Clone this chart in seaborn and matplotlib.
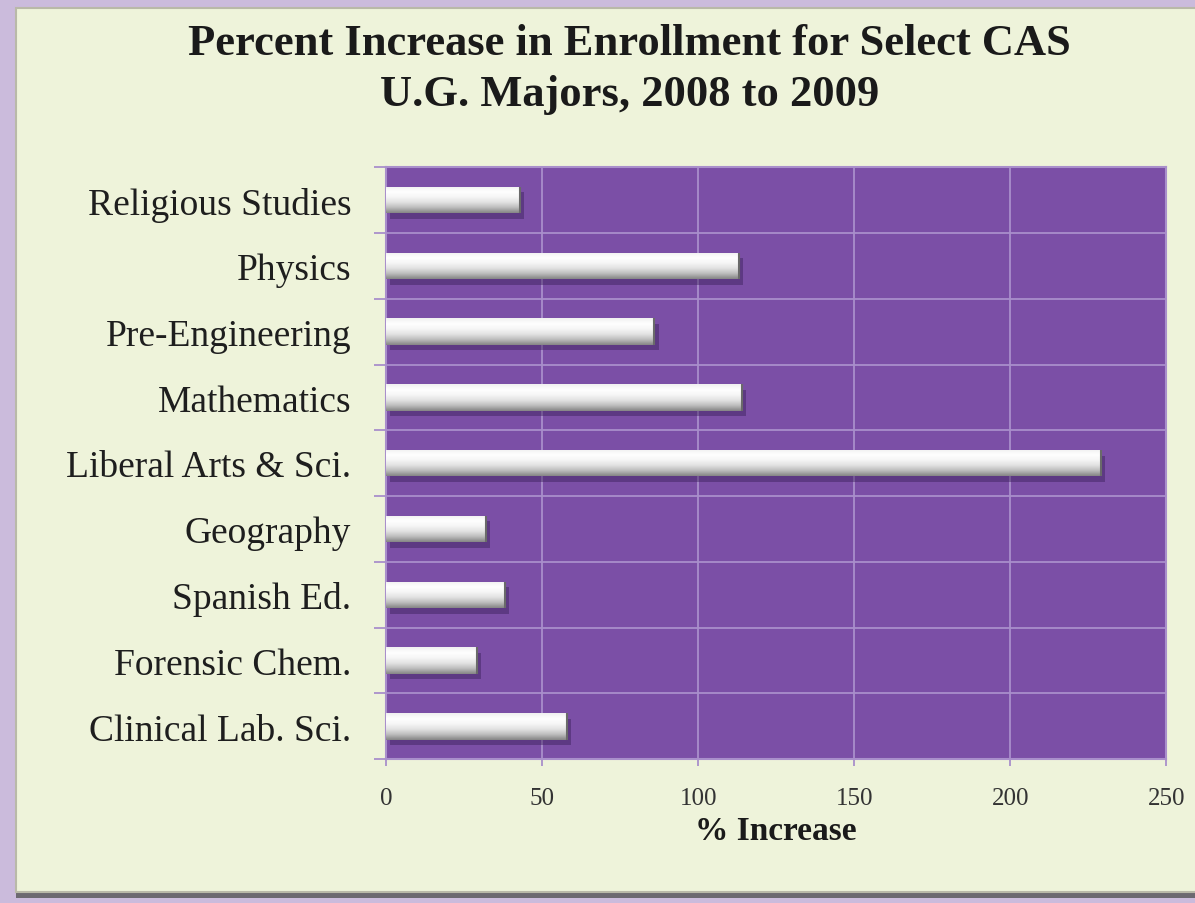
import numpy as np
import pandas as pd
import matplotlib
matplotlib.use("Agg")
import matplotlib.pyplot as plt
import seaborn as sns
from matplotlib.patches import FancyBboxPatch
from matplotlib import patheffects as pe
from matplotlib.colors import LinearSegmentedColormap

majors = ["Religious Studies", "Physics", "Pre-Engineering", "Mathematics",
          "Liberal Arts & Sci.", "Geography", "Spanish Ed.", "Forensic Chem.",
          "Clinical Lab. Sci."]
pct_increase = [43, 113, 86, 114, 229, 32, 38, 29, 58]
x_ticks = [0, 50, 100, 150, 200, 250]

title_lines = ["Percent Increase in Enrollment for Select CAS",
               "U.G. Majors, 2008 to 2009"]
x_label = "% Increase"

df = pd.DataFrame({"major": majors, "pct": pct_increase})

sns.set_theme(style="white")
plt.rcParams["font.family"] = ["Liberation Serif", "DejaVu Serif"]

fig = plt.figure(figsize=(11.95, 9.04), dpi=100)
fig.patch.set_facecolor("#CBBBDC")

# cream panel
panel = FancyBboxPatch((0.013, 0.012), 1.0, 0.978,
                       boxstyle="square,pad=0", transform=fig.transFigure,
                       facecolor="#EEF3DA", edgecolor="#B9B9A8", linewidth=1.5,
                       zorder=-5)
panel.set_path_effects([pe.SimplePatchShadow(offset=(0, -4), shadow_rgbFace="#555555", alpha=0.8),
                        pe.Normal()])
fig.patches.append(panel)

ax = fig.add_axes([0.323, 0.159, 0.653, 0.655])
ax.set_zorder(5)
ax.set_facecolor("#7B4FA6")

sns.barplot(data=df, x="pct", y="major", orient="h", order=majors,
            color="#E6E6E6", width=0.4, ax=ax, zorder=3,
            edgecolor="none", linewidth=0)

cmap = LinearSegmentedColormap.from_list(
    "silver", ["#F0F0F0", "#FFFFFF", "#F6F6F6", "#E2E2E2", "#BDBDBD", "#858585"])
grad = np.linspace(0, 1, 64).reshape(-1, 1)
for p in list(ax.patches):
    x0, y0 = p.get_x(), p.get_y()
    w, h = p.get_width(), p.get_height()
    p.set_path_effects([pe.SimplePatchShadow(offset=(3, -4), shadow_rgbFace="#3A1F5A", alpha=0.45),
                        pe.Normal()])
    im = ax.imshow(grad, cmap=cmap, aspect="auto",
                   extent=(x0, x0 + w, y0 + h, y0), origin="upper",
                   zorder=4, interpolation="bicubic")
    im.set_clip_path(p)
    ax.plot([x0 + w, x0 + w], [y0, y0 + h], color="#6A6A6A", lw=1.5, zorder=5,
            solid_capstyle="butt")

ax.set_xlim(0, 250)
ax.set_ylim(len(majors) - 0.5, -0.5)
ax.set_xticks(x_ticks)
ax.set_xticklabels([str(t) for t in x_ticks])
ax.set_yticks(np.arange(len(majors)))
ax.set_yticklabels(majors)
ax.set_yticks(np.arange(-0.5, len(majors), 1.0), minor=True)

grid_c = "#A98FCB"
ax.grid(True, axis="x", which="major", color=grid_c, lw=1.3, zorder=1)
ax.grid(True, axis="y", which="minor", color=grid_c, lw=1.3, zorder=1)
ax.grid(False, axis="y", which="major")
ax.set_axisbelow(True)

for s in ax.spines.values():
    s.set_color(grid_c)
    s.set_linewidth(1.5)

ax.tick_params(axis="y", which="major", length=0, pad=25, labelsize=27,
               labelcolor="#1E1E1E")
ax.tick_params(axis="y", which="minor", length=8.5, width=1.3, color=grid_c, left=True)
ax.tick_params(axis="x", which="major", length=5, width=1.3, color=grid_c, bottom=True,
               pad=15, labelsize=18, labelcolor="#333333")

ax.set_ylabel("")
ax.set_xlabel(x_label, fontsize=24, fontweight="bold", color="#1A1A1A", labelpad=4)

fig.text(0.527, 0.951, title_lines[0], ha="center", va="center", fontsize=32,
         fontweight="bold", color="#1A1A1A")
fig.text(0.527, 0.895, title_lines[1], ha="center", va="center", fontsize=32,
         fontweight="bold", color="#1A1A1A")

fig.savefig("out.png", dpi=100, facecolor=fig.get_facecolor())
